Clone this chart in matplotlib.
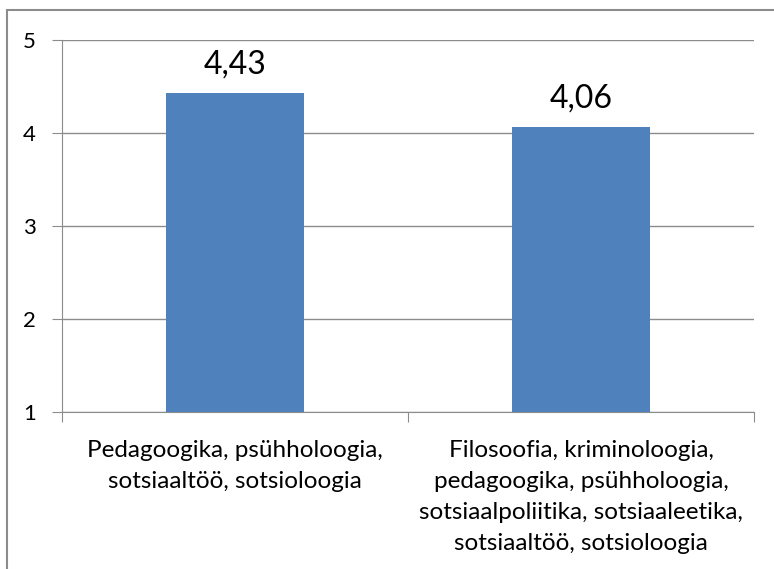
import matplotlib.pyplot as plt
from matplotlib.patches import Rectangle

categories = ["Pedagoogika, psühholoogia,\nsotsiaaltöö, sotsioloogia",
              "Filosoofia, kriminoloogia,\npedagoogika, psühholoogia,\nsotsiaalpoliitika, sotsiaaleetika,\nsotsiaaltöö, sotsioloogia"]
values = [4.43, 4.06]
yticks = [1, 2, 3, 4, 5]

plt.rcParams['font.family'] = ['Lato', 'DejaVu Sans']

fig = plt.figure(figsize=(7.74, 5.69), dpi=100)
ax = fig.add_axes([62 / 774, 1 - 412 / 569, 692 / 774, 372 / 569])

x = range(len(values))
ax.bar(x, [v - 1 for v in values], bottom=1, width=0.4, color='#4F81BD', zorder=3)

for xi, v in zip(x, values):
    ax.text(xi, v + 0.15, f"{v:.2f}".replace('.', ','), ha='center', va='bottom',
            fontsize=23, color='black')

ax.set_xlim(-0.5, 1.5)
ax.set_ylim(1, 5)
ax.set_yticks(yticks)
ax.set_yticklabels([str(t) for t in yticks], fontsize=16)
ax.set_xticks([-0.5, 0.5, 1.5], minor=False)
ax.set_xticklabels([])
ax.set_xticks(list(x), minor=True)
ax.set_xticklabels(categories, minor=True, fontsize=17.5, linespacing=1.6)
ax.tick_params(axis='x', which='minor', length=0, pad=20)
ax.tick_params(axis='x', which='major', length=7, color='#8c8c8c', direction='out')
ax.tick_params(axis='y', length=7, color='#8c8c8c', pad=12)

ax.grid(axis='y', color='#8c8c8c', linewidth=1, zorder=0)
for s in ['top', 'right']:
    ax.spines[s].set_visible(False)
ax.spines['left'].set_color('#8c8c8c')
ax.spines['bottom'].set_color('#8c8c8c')

# chart border (only top and left visible in the crop)
fig.patches.append(Rectangle((7 / 774, -0.1), 1.2, 1 - 10 / 569 + 0.1,
                             transform=fig.transFigure, fill=False,
                             edgecolor='#8c8c8c', linewidth=1.5))

fig.savefig('out.png', dpi=100)
